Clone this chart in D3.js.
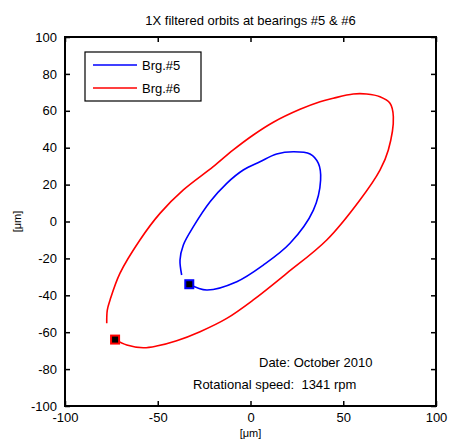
<!DOCTYPE html>
<html>
<head>
<meta charset="utf-8">
<script src="https://cdn.jsdelivr.net/npm/d3@7"></script>
<style>
  body { margin: 0; background: #fff; }
  text { font-family: "Liberation Sans", Arial, sans-serif; fill: #000; }
</style>
</head>
<body>
<svg id="chart" width="449" height="441"></svg>
<script>
// Orbit data (µm)
const brg5X = [-33, -23.6, -7.4, 6.9, 21.3, 33.9, 37.8, 36.6, 32.1, 23.1, 14.1, 5.1, -3.9, -12.8, -21.8, -30.8, -36.2, -38.0, -37.1];
const brg5Y = [-34, -37.1, -32.6, -23.6, -11.8, 6.2, 22.5, 31.5, 36.6, 37.8, 36.6, 32.4, 27.9, 20.7, 10.7, -2.8, -12.7, -20.9, -29.0];

const brg6X = [-73, -66.7, -57.8, -50.6, -39.8, -27.2, -12.8, 1.5, 19.5, 41.1, 59.0, 69.8, 74.3, 77.0, 75.2, 69.8, 62.6, 55.4, 44.6, 37.5, 26.7, 12.3, 1.5, -9.3, -20.1, -36.2, -48.8, -59.6, -70.4, -75.7, -77.2, -77.5];
const brg6Y = [-64, -66.9, -68.4, -67.5, -64.6, -59.7, -52.5, -42.5, -28.1, -10.0, 11.7, 27.9, 38.8, 56.8, 64.1, 67.6, 69.1, 69.1, 66.8, 64.9, 60.8, 53.8, 46.9, 38.8, 29.7, 17.1, 4.4, -10.0, -28.1, -42.5, -48.0, -55.2];

const seriesNames = ["Brg.#5", "Brg.#6"];
const seriesColors = ["#0000ff", "#ff0000"];
const ticks = [-100, -80, -60, -40, -20, 0, 20, 40, 60, 80, 100];
const xTicks = [-100, -50, 0, 50, 100];

const svg = d3.select("#chart");
const plotL = 65, plotR = 436, plotT = 37, plotB = 406;

const x = d3.scaleLinear().domain([-100, 100]).range([plotL, plotR]);
const y = d3.scaleLinear().domain([-100, 100]).range([plotB, plotT]);
const fmt = d => String(d); // plain hyphen minus like matlab

// title
svg.append("text")
    .attr("x", (plotL + plotR) / 2).attr("y", 25)
    .attr("text-anchor", "middle")
    .attr("font-size", 13)
    .text("1X filtered orbits at bearings #5 & #6");

// axes (matlab style box, ticks inside)
const tl = 5;
svg.append("g").attr("transform", `translate(0,${plotB})`)
    .call(d3.axisBottom(x).tickValues(xTicks).tickSize(-tl).tickPadding(7).tickFormat(fmt))
    .call(g => g.select(".domain").remove());
svg.append("g").attr("transform", `translate(0,${plotT})`)
    .call(d3.axisTop(x).tickValues(xTicks).tickSize(-tl).tickFormat(""))
    .call(g => g.select(".domain").remove());
svg.append("g").attr("transform", `translate(${plotL},0)`)
    .call(d3.axisLeft(y).tickValues(ticks).tickSize(-tl).tickPadding(8).tickFormat(fmt))
    .call(g => g.select(".domain").remove());
svg.append("g").attr("transform", `translate(${plotR},0)`)
    .call(d3.axisRight(y).tickValues(ticks).tickSize(-tl).tickFormat(""))
    .call(g => g.select(".domain").remove());

svg.selectAll(".tick text").attr("font-size", 13)
    .attr("font-family", "'Liberation Sans', Arial, sans-serif").attr("fill", "#000");
svg.selectAll(".tick line").attr("stroke", "#000").attr("stroke-width", 1.5);

svg.append("rect")
    .attr("x", plotL).attr("y", plotT)
    .attr("width", plotR - plotL).attr("height", plotB - plotT)
    .attr("fill", "none").attr("stroke", "#000").attr("stroke-width", 2);

// axis labels
svg.append("text")
    .attr("x", (plotL + plotR) / 2).attr("y", 437)
    .attr("text-anchor", "middle").attr("font-size", 11)
    .text("[μm]");
svg.append("text")
    .attr("transform", `translate(21,${(plotT + plotB) / 2}) rotate(-90)`)
    .attr("text-anchor", "middle").attr("font-size", 11)
    .text("[μm]");

// orbits
const line = d3.line().x(d => x(d[0])).y(d => y(d[1])).curve(d3.curveCatmullRom);
const series = [
    d3.zip(brg5X, brg5Y),
    d3.zip(brg6X, brg6Y)
];

series.forEach((pts, i) => {
    svg.append("path")
        .datum(pts)
        .attr("d", line)
        .attr("fill", "none")
        .attr("stroke", seriesColors[i])
        .attr("stroke-width", 1.6)
        .attr("stroke-linejoin", "round");
    // start marker
    svg.append("rect")
        .attr("x", x(pts[0][0]) - 4).attr("y", y(pts[0][1]) - 4)
        .attr("width", 8).attr("height", 8)
        .attr("fill", "#000")
        .attr("stroke", seriesColors[i]).attr("stroke-width", 2);
});

// legend
const lg = svg.append("g");
lg.append("rect")
    .attr("x", 85).attr("y", 52).attr("width", 116).attr("height", 49)
    .attr("fill", "#fff").attr("stroke", "#000").attr("stroke-width", 1.2);
seriesNames.forEach((name, i) => {
    const ly = 65 + i * 23;
    lg.append("line")
        .attr("x1", 93).attr("x2", 137).attr("y1", ly).attr("y2", ly)
        .attr("stroke", seriesColors[i]).attr("stroke-width", 1.6);
    lg.append("text")
        .attr("x", 142).attr("y", ly + 5)
        .attr("font-size", 13)
        .text(name);
});

// annotations
svg.append("text")
    .attr("x", 259).attr("y", 367).attr("font-size", 13)
    .text("Date: October 2010");
svg.append("text")
    .attr("x", 193).attr("y", 389).attr("font-size", 13)
    .attr("xml:space", "preserve")
    .text("Rotational speed:  1341 rpm");
</script>
</body>
</html>
